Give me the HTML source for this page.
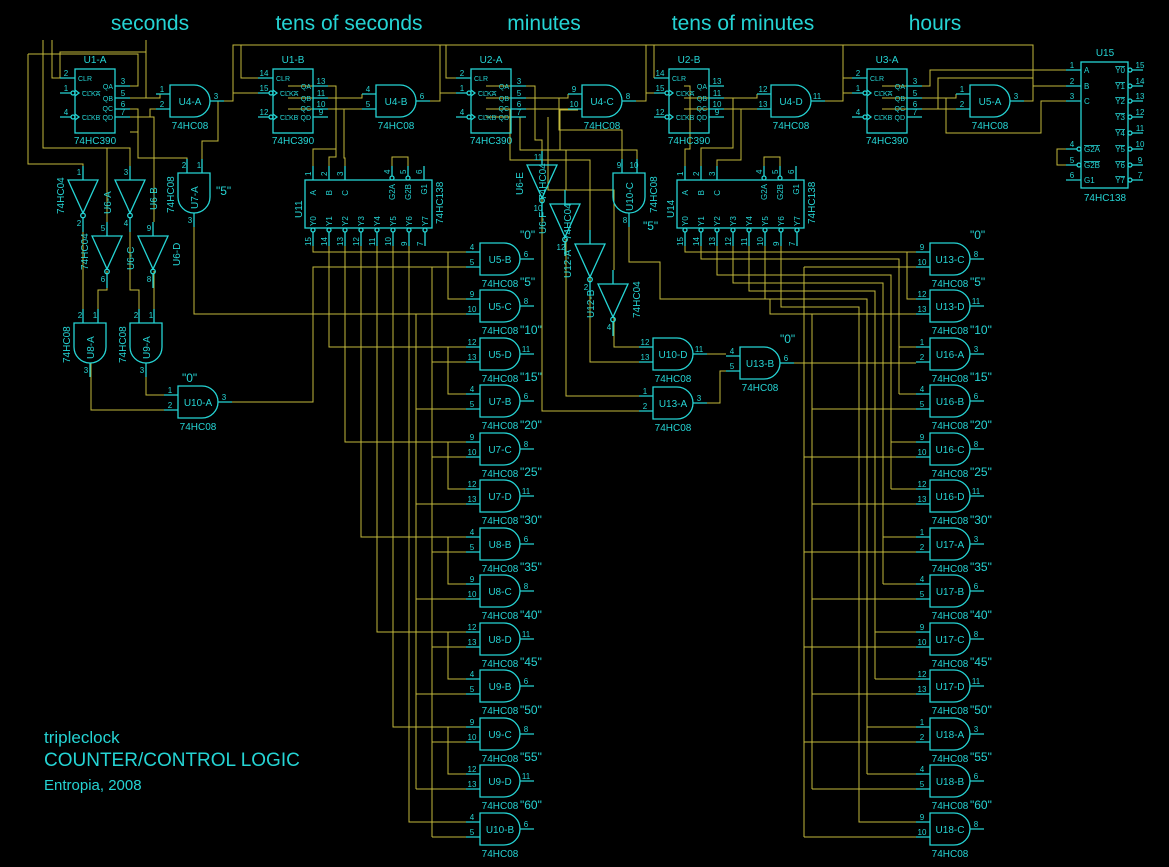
<!DOCTYPE html>
<html><head><meta charset="utf-8"><style>
html,body{margin:0;padding:0;background:#000;}
svg{display:block}
text{font-family:"Liberation Sans",sans-serif;fill:#25d4d4}
.m{font-size:10px;text-anchor:middle}
.p{font-size:8px;text-anchor:middle}
.q{font-size:12px}
.s{font-size:8px}
.k{font-size:7px}
.w{stroke:#c2b83c;fill:none;stroke-width:1}
.c{stroke:#25d4d4;fill:none;stroke-width:1.3}
.t{font-size:21px;text-anchor:middle}
</style></head><body>
<svg width="1169" height="867" viewBox="0 0 1169 867" xmlns="http://www.w3.org/2000/svg">
<defs>
<g id="and"><path class="c" d="M0,0H24A16,16 0 0 1 24,32H0Z"/><path class="c" d="M-14,9H0M-14,24H0M40,16H54"/></g>
<g id="andv"><path class="c" d="M0,0V24A16,16 0 0 0 32,24V0Z"/><path class="c" d="M9,-14V0M24,-14V0M16,40V54"/></g>
<g id="inv"><path class="c" d="M0,0H30L15,33Z"/><circle class="c" cx="15" cy="35.5" r="2.3"/><path class="c" d="M15,-14V0M15,38V52"/></g>
<g id="cnt"><rect class="c" x="0" y="0" width="40" height="64"/><path class="c" d="M-15,9H0M-15,24H-4M-15,48H-4M40,17H55M40,29H55M40,40H55M40,48H55M0,21L4,24L0,27M0,45L4,48L0,51"/><circle class="c" cx="-2" cy="24" r="2"/><circle class="c" cx="-2" cy="48" r="2"/></g>
<g id="dec"><rect class="c" x="0" y="0" width="127" height="48"/><path class="c" d="M8,-14V0M24,-14V0M40,-14V0M87,-14V-4M103,-14V-4M119,-14V0M8,52V66M24,52V66M40,52V66M56,52V66M72,52V66M88,52V66M104,52V66M120,52V66"/><circle class="c" cx="87" cy="-2" r="2"/><circle class="c" cx="103" cy="-2" r="2"/><circle class="c" cx="8" cy="50" r="2"/><circle class="c" cx="24" cy="50" r="2"/><circle class="c" cx="40" cy="50" r="2"/><circle class="c" cx="56" cy="50" r="2"/><circle class="c" cx="72" cy="50" r="2"/><circle class="c" cx="88" cy="50" r="2"/><circle class="c" cx="104" cy="50" r="2"/><circle class="c" cx="120" cy="50" r="2"/></g>
</defs>

<text class="t" x="150" y="30">seconds</text>
<text class="t" x="349" y="30">tens of seconds</text>
<text class="t" x="544" y="30">minutes</text>
<text class="t" x="743" y="30">tens of minutes</text>
<text class="t" x="935" y="30">hours</text>

<g class="w">
<path d="M43,40V148H130V166"/>
<path d="M28,54H138V86H130"/>
<path d="M52,40V78H60"/>
<path d="M146,40V92"/>
<path d="M130,98H146V52H60V78"/>
<path d="M130,109H138V132"/>
<path d="M130,117H154V222"/>
<path d="M130,98H160V94H156"/>
<path d="M138,117H150V109H156"/>
<path d="M224,101H233V93H258"/>
<path d="M233,93V45H440V93"/>
<path d="M241,45V78H258"/>
<path d="M28,54V164H83V166"/>
<path d="M130,132H138V158H187V159"/>
<path d="M218,101V141H202V159"/>
<path d="M288,98H362V94"/>
<path d="M288,109H356V109H362"/>
<path d="M430,101H440V93H456"/>
<path d="M446,45V78H456"/>
<path d="M440,45H646V93"/>
<path d="M636,101H646V93H654"/>
<path d="M646,45H843V78H852"/>
<path d="M654,45V78"/>
<path d="M825,101H843V93H852"/>
<path d="M843,45V93"/>
<path d="M1024,101H1033V45H843"/>
<path d="M486,98H568V94"/>
<path d="M486,109H540V109H568"/>
<path d="M684,98H757V94"/>
<path d="M684,109H757"/>
<path d="M882,98H956V94"/>
<path d="M882,109H946V109H956"/>
<path d="M882,86H930V70H1066"/>
<path d="M882,109H938V78H1033V86H1066"/>
<path d="M946,98V133H1041V101H1066"/>
<path d="M1066,149H1057V165H1066"/>
<path d="M288,86H336V149H313V166"/>
<path d="M336,98V157H329V166"/>
<path d="M344,109V158H345V166"/>
<path d="M392,166V157H408V166"/>
<path d="M684,86H690V149H685V166"/>
<path d="M733,98V148H701V166"/>
<path d="M741,109V160H717V166"/>
<path d="M764,166V157H780V166"/>
<path d="M83,217V309"/>
<path d="M130,217V290H139V309"/>
<path d="M107,222V148"/>
<path d="M107,271V290H98V309"/>
<path d="M154,271V309"/>
<path d="M91,363V410H164"/>
<path d="M146,363V395H164"/>
<path d="M486,86H535V140H542V151"/>
<path d="M486,117H520V150H566V190"/>
<path d="M510,109V160H590V230"/>
<path d="M548,117V190H614V270"/>
<path d="M559,98V130H622V159"/>
<path d="M578,110H560V150H637V159"/>
<path d="M614,318V347H639"/>
<path d="M590,278V362H639"/>
<path d="M566,239V396H639"/>
<path d="M542,199V411H639"/>
<path d="M707,354H726"/>
<path d="M707,403H720V371H726"/>
<path d="M313,232V252H466M448,252V299H466"/>
<path d="M329,232V347H466M448,347V394H466"/>
<path d="M345,232V442H466M448,442V489H466"/>
<path d="M361,232V537H466M448,537V584H466"/>
<path d="M377,232V632H466M448,632V679H466"/>
<path d="M393,232V727H466M448,727V774H466"/>
<path d="M409,232V822H466"/>
<path d="M232,402H313V267H466"/>
<path d="M432,267V837M432,362H466M432,457H466M432,552H466M432,647H466M432,742H466M432,837H466"/>
<path d="M194,213V314H466"/>
<path d="M416,314V789M416,409H466M416,504H466M416,599H466M416,694H466M416,789H466"/>
<path d="M685,232V252H916M907,252V299H916"/>
<path d="M701,232V259H899V394M899,347H916M899,394H916"/>
<path d="M717,232V275H891V489M891,442H916M891,489H916"/>
<path d="M733,232V283H883V584M883,537H916M883,584H916"/>
<path d="M749,232V291H875V679M875,632H916M875,679H916"/>
<path d="M765,232V299H867V774M867,727H916M867,774H916"/>
<path d="M781,232V307H859V822H916"/>
<path d="M794,363H916"/>
<path d="M804,267H916M804,267V837M804,457H916M804,552H916M804,647H916M804,742H916M804,837H916"/>
<path d="M629,227V262H660V299H770V314H916"/>
<path d="M812,314V789M812,409H916M812,504H916M812,599H916M812,694H916M812,789H916"/>
</g>

<g transform="translate(75,69)"><use href="#cnt"/>
<text class="m" x="20" y="-6">U1-A</text><text class="m" x="20" y="75">74HC390</text>
<text class="k" x="3" y="12">CLR</text><text class="k" x="7" y="27" text-decoration="overline">CLKA</text><text class="k" x="7" y="51" text-decoration="overline">CLKB</text>
<text class="k" x="38" y="20" text-anchor="end">QA</text><text class="k" x="38" y="32" text-anchor="end">QB</text><text class="k" x="38" y="42" text-anchor="end">QC</text><text class="k" x="38" y="51" text-anchor="end">QD</text>
<text class="p" x="-9" y="7">2</text><text class="p" x="-9" y="22">1</text><text class="p" x="-9" y="46">4</text>
<text class="p" x="48" y="15">3</text><text class="p" x="48" y="27">5</text><text class="p" x="48" y="38">6</text><text class="p" x="48" y="46">7</text></g>
<g transform="translate(273,69)"><use href="#cnt"/>
<text class="m" x="20" y="-6">U1-B</text><text class="m" x="20" y="75">74HC390</text>
<text class="k" x="3" y="12">CLR</text><text class="k" x="7" y="27" text-decoration="overline">CLKA</text><text class="k" x="7" y="51" text-decoration="overline">CLKB</text>
<text class="k" x="38" y="20" text-anchor="end">QA</text><text class="k" x="38" y="32" text-anchor="end">QB</text><text class="k" x="38" y="42" text-anchor="end">QC</text><text class="k" x="38" y="51" text-anchor="end">QD</text>
<text class="p" x="-9" y="7">14</text><text class="p" x="-9" y="22">15</text><text class="p" x="-9" y="46">12</text>
<text class="p" x="48" y="15">13</text><text class="p" x="48" y="27">11</text><text class="p" x="48" y="38">10</text><text class="p" x="48" y="46">9</text></g>
<g transform="translate(471,69)"><use href="#cnt"/>
<text class="m" x="20" y="-6">U2-A</text><text class="m" x="20" y="75">74HC390</text>
<text class="k" x="3" y="12">CLR</text><text class="k" x="7" y="27" text-decoration="overline">CLKA</text><text class="k" x="7" y="51" text-decoration="overline">CLKB</text>
<text class="k" x="38" y="20" text-anchor="end">QA</text><text class="k" x="38" y="32" text-anchor="end">QB</text><text class="k" x="38" y="42" text-anchor="end">QC</text><text class="k" x="38" y="51" text-anchor="end">QD</text>
<text class="p" x="-9" y="7">2</text><text class="p" x="-9" y="22">1</text><text class="p" x="-9" y="46">4</text>
<text class="p" x="48" y="15">3</text><text class="p" x="48" y="27">5</text><text class="p" x="48" y="38">6</text><text class="p" x="48" y="46">7</text></g>
<g transform="translate(669,69)"><use href="#cnt"/>
<text class="m" x="20" y="-6">U2-B</text><text class="m" x="20" y="75">74HC390</text>
<text class="k" x="3" y="12">CLR</text><text class="k" x="7" y="27" text-decoration="overline">CLKA</text><text class="k" x="7" y="51" text-decoration="overline">CLKB</text>
<text class="k" x="38" y="20" text-anchor="end">QA</text><text class="k" x="38" y="32" text-anchor="end">QB</text><text class="k" x="38" y="42" text-anchor="end">QC</text><text class="k" x="38" y="51" text-anchor="end">QD</text>
<text class="p" x="-9" y="7">14</text><text class="p" x="-9" y="22">15</text><text class="p" x="-9" y="46">12</text>
<text class="p" x="48" y="15">13</text><text class="p" x="48" y="27">11</text><text class="p" x="48" y="38">10</text><text class="p" x="48" y="46">9</text></g>
<g transform="translate(867,69)"><use href="#cnt"/>
<text class="m" x="20" y="-6">U3-A</text><text class="m" x="20" y="75">74HC390</text>
<text class="k" x="3" y="12">CLR</text><text class="k" x="7" y="27" text-decoration="overline">CLKA</text><text class="k" x="7" y="51" text-decoration="overline">CLKB</text>
<text class="k" x="38" y="20" text-anchor="end">QA</text><text class="k" x="38" y="32" text-anchor="end">QB</text><text class="k" x="38" y="42" text-anchor="end">QC</text><text class="k" x="38" y="51" text-anchor="end">QD</text>
<text class="p" x="-9" y="7">2</text><text class="p" x="-9" y="22">1</text><text class="p" x="-9" y="46">4</text>
<text class="p" x="48" y="15">3</text><text class="p" x="48" y="27">5</text><text class="p" x="48" y="38">6</text><text class="p" x="48" y="46">7</text></g>

<g transform="translate(170,85)"><use href="#and"/><text class="m" x="20" y="20">U4-A</text><text class="m" x="20" y="44">74HC08</text><text class="p" x="-8" y="7">1</text><text class="p" x="-8" y="22">2</text><text class="p" x="46" y="14">3</text></g>
<g transform="translate(376,85)"><use href="#and"/><text class="m" x="20" y="20">U4-B</text><text class="m" x="20" y="44">74HC08</text><text class="p" x="-8" y="7">4</text><text class="p" x="-8" y="22">5</text><text class="p" x="46" y="14">6</text></g>
<g transform="translate(582,85)"><use href="#and"/><text class="m" x="20" y="20">U4-C</text><text class="m" x="20" y="44">74HC08</text><text class="p" x="-8" y="7">9</text><text class="p" x="-8" y="22">10</text><text class="p" x="46" y="14">8</text></g>
<g transform="translate(771,85)"><use href="#and"/><text class="m" x="20" y="20">U4-D</text><text class="m" x="20" y="44">74HC08</text><text class="p" x="-8" y="7">12</text><text class="p" x="-8" y="22">13</text><text class="p" x="46" y="14">11</text></g>
<g transform="translate(970,85)"><use href="#and"/><text class="m" x="20" y="20">U5-A</text><text class="m" x="20" y="44">74HC08</text><text class="p" x="-8" y="7">1</text><text class="p" x="-8" y="22">2</text><text class="p" x="46" y="14">3</text></g>

<g transform="translate(305,180)"><use href="#dec"/>
<text transform="translate(11,10) rotate(-90)" text-anchor="end" class="s">A</text><text transform="translate(27,10) rotate(-90)" text-anchor="end" class="s">B</text><text transform="translate(43,10) rotate(-90)" text-anchor="end" class="s">C</text><text transform="translate(90,4) rotate(-90)" text-anchor="end" class="s">G2A</text><text transform="translate(106,4) rotate(-90)" text-anchor="end" class="s">G2B</text><text transform="translate(122,4) rotate(-90)" text-anchor="end" class="s">G1</text>
<text transform="translate(11,46) rotate(-90)" class="s">Y0</text><text transform="translate(27,46) rotate(-90)" class="s">Y1</text><text transform="translate(43,46) rotate(-90)" class="s">Y2</text><text transform="translate(59,46) rotate(-90)" class="s">Y3</text><text transform="translate(75,46) rotate(-90)" class="s">Y4</text><text transform="translate(91,46) rotate(-90)" class="s">Y5</text><text transform="translate(107,46) rotate(-90)" class="s">Y6</text><text transform="translate(123,46) rotate(-90)" class="s">Y7</text>
<text transform="translate(6,-4) rotate(-90)" class="s">1</text><text transform="translate(22,-4) rotate(-90)" class="s">2</text><text transform="translate(38,-4) rotate(-90)" class="s">3</text><text transform="translate(85,-6) rotate(-90)" class="s">4</text><text transform="translate(101,-6) rotate(-90)" class="s">5</text><text transform="translate(117,-6) rotate(-90)" class="s">6</text>
<text transform="translate(6,66) rotate(-90)" class="s">15</text><text transform="translate(22,66) rotate(-90)" class="s">14</text><text transform="translate(38,66) rotate(-90)" class="s">13</text><text transform="translate(54,66) rotate(-90)" class="s">12</text><text transform="translate(70,66) rotate(-90)" class="s">11</text><text transform="translate(86,66) rotate(-90)" class="s">10</text><text transform="translate(102,66) rotate(-90)" class="s">9</text><text transform="translate(118,66) rotate(-90)" class="s">7</text>
<text transform="translate(-3,38) rotate(-90)" style="font-size:10px">U11</text><text transform="translate(138,44) rotate(-90)" style="font-size:10px">74HC138</text></g>
<g transform="translate(677,180)"><use href="#dec"/>
<text transform="translate(11,10) rotate(-90)" text-anchor="end" class="s">A</text><text transform="translate(27,10) rotate(-90)" text-anchor="end" class="s">B</text><text transform="translate(43,10) rotate(-90)" text-anchor="end" class="s">C</text><text transform="translate(90,4) rotate(-90)" text-anchor="end" class="s">G2A</text><text transform="translate(106,4) rotate(-90)" text-anchor="end" class="s">G2B</text><text transform="translate(122,4) rotate(-90)" text-anchor="end" class="s">G1</text>
<text transform="translate(11,46) rotate(-90)" class="s">Y0</text><text transform="translate(27,46) rotate(-90)" class="s">Y1</text><text transform="translate(43,46) rotate(-90)" class="s">Y2</text><text transform="translate(59,46) rotate(-90)" class="s">Y3</text><text transform="translate(75,46) rotate(-90)" class="s">Y4</text><text transform="translate(91,46) rotate(-90)" class="s">Y5</text><text transform="translate(107,46) rotate(-90)" class="s">Y6</text><text transform="translate(123,46) rotate(-90)" class="s">Y7</text>
<text transform="translate(6,-4) rotate(-90)" class="s">1</text><text transform="translate(22,-4) rotate(-90)" class="s">2</text><text transform="translate(38,-4) rotate(-90)" class="s">3</text><text transform="translate(85,-6) rotate(-90)" class="s">4</text><text transform="translate(101,-6) rotate(-90)" class="s">5</text><text transform="translate(117,-6) rotate(-90)" class="s">6</text>
<text transform="translate(6,66) rotate(-90)" class="s">15</text><text transform="translate(22,66) rotate(-90)" class="s">14</text><text transform="translate(38,66) rotate(-90)" class="s">13</text><text transform="translate(54,66) rotate(-90)" class="s">12</text><text transform="translate(70,66) rotate(-90)" class="s">11</text><text transform="translate(86,66) rotate(-90)" class="s">10</text><text transform="translate(102,66) rotate(-90)" class="s">9</text><text transform="translate(118,66) rotate(-90)" class="s">7</text>
<text transform="translate(-3,38) rotate(-90)" style="font-size:10px">U14</text><text transform="translate(138,44) rotate(-90)" style="font-size:10px">74HC138</text></g>

<g transform="translate(1081,62)">
<rect class="c" x="0" y="0" width="47" height="126"/>
<path class="c" d="M-15,8H0M-15,24H0M-15,39H0M-15,87H-4M-15,103H-4M-15,118H0M51,8H62M51,24H62M51,39H62M51,55H62M51,71H62M51,87H62M51,103H62M51,118H62"/>
<circle class="c" cx="-2" cy="87" r="2"/><circle class="c" cx="-2" cy="103" r="2"/>
<circle class="c" cx="49" cy="8" r="2"/><circle class="c" cx="49" cy="24" r="2"/><circle class="c" cx="49" cy="39" r="2"/><circle class="c" cx="49" cy="55" r="2"/><circle class="c" cx="49" cy="71" r="2"/><circle class="c" cx="49" cy="87" r="2"/><circle class="c" cx="49" cy="103" r="2"/><circle class="c" cx="49" cy="118" r="2"/>
<text class="m" x="24" y="-6">U15</text><text class="m" x="24" y="139">74HC138</text>
<text class="s" x="3" y="11">A</text><text class="s" x="3" y="27">B</text><text class="s" x="3" y="42">C</text><text class="s" x="3" y="90" text-decoration="overline">G2A</text><text class="s" x="3" y="106" text-decoration="overline">G2B</text><text class="s" x="3" y="121">G1</text>
<text class="s" x="44" y="11" text-anchor="end" text-decoration="overline">Y0</text><text class="s" x="44" y="27" text-anchor="end" text-decoration="overline">Y1</text><text class="s" x="44" y="42" text-anchor="end" text-decoration="overline">Y2</text><text class="s" x="44" y="58" text-anchor="end" text-decoration="overline">Y3</text><text class="s" x="44" y="74" text-anchor="end" text-decoration="overline">Y4</text><text class="s" x="44" y="90" text-anchor="end" text-decoration="overline">Y5</text><text class="s" x="44" y="106" text-anchor="end" text-decoration="overline">Y6</text><text class="s" x="44" y="121" text-anchor="end" text-decoration="overline">Y7</text>
<text class="p" x="-9" y="6">1</text><text class="p" x="-9" y="22">2</text><text class="p" x="-9" y="37">3</text><text class="p" x="-9" y="85">4</text><text class="p" x="-9" y="101">5</text><text class="p" x="-9" y="116">6</text>
<text class="p" x="59" y="6">15</text><text class="p" x="59" y="22">14</text><text class="p" x="59" y="37">13</text><text class="p" x="59" y="53">12</text><text class="p" x="59" y="69">11</text><text class="p" x="59" y="85">10</text><text class="p" x="59" y="101">9</text><text class="p" x="59" y="116">7</text>
</g>

<g transform="translate(68,180)"><use href="#inv"/><text transform="translate(-4,34) rotate(-90)" style="font-size:10px">74HC04</text><text class="p" x="11" y="-5">1</text><text class="p" x="11" y="46">2</text></g>
<g transform="translate(115,180)"><use href="#inv"/><text transform="translate(-4,34) rotate(-90)" style="font-size:10px">U6-A</text><text transform="translate(42,30) rotate(-90)" style="font-size:10px">U6-B</text><text class="p" x="11" y="-5">3</text><text class="p" x="11" y="46">4</text></g>
<g transform="translate(92,236)"><use href="#inv"/><text transform="translate(-4,34) rotate(-90)" style="font-size:10px">74HC04</text><text class="p" x="11" y="-5">5</text><text class="p" x="11" y="46">6</text></g>
<g transform="translate(138,236)"><use href="#inv"/><text transform="translate(-4,34) rotate(-90)" style="font-size:10px">U6-C</text><text transform="translate(42,30) rotate(-90)" style="font-size:10px">U6-D</text><text class="p" x="11" y="-5">9</text><text class="p" x="11" y="46">8</text></g>

<g transform="translate(527,165)"><use href="#inv"/><text transform="translate(-4,30) rotate(-90)" style="font-size:10px">U6-E</text><text class="p" x="11" y="-5">11</text><text class="p" x="11" y="46">10</text></g>
<g transform="translate(550,204)"><use href="#inv"/><text transform="translate(-4,30) rotate(-90)" style="font-size:10px">U6-F</text><text transform="translate(-4,-4) rotate(-90)" style="font-size:10px">74HC04</text><text class="p" x="11" y="46">12</text></g>
<g transform="translate(575,244)"><use href="#inv"/><text transform="translate(-4,34) rotate(-90)" style="font-size:10px">U12-A</text><text transform="translate(-4,-4) rotate(-90)" style="font-size:10px">74HC04</text><text class="p" x="11" y="46">2</text></g>
<g transform="translate(598,284)"><use href="#inv"/><text transform="translate(-4,34) rotate(-90)" style="font-size:10px">U12-B</text><text transform="translate(42,34) rotate(-90)" style="font-size:10px">74HC04</text><text class="p" x="11" y="46">4</text></g>

<g transform="translate(178,173)"><use href="#andv"/><text transform="translate(20,36) rotate(-90)" style="font-size:10px">U7-A</text><text transform="translate(-4,40) rotate(-90)" style="font-size:10px">74HC08</text><text class="q" x="38" y="22">"5"</text><text class="p" x="6" y="-5">2</text><text class="p" x="21" y="-5">1</text><text class="p" x="12" y="50">3</text></g>
<g transform="translate(74,323)"><use href="#andv"/><text transform="translate(20,36) rotate(-90)" style="font-size:10px">U8-A</text><text transform="translate(-4,40) rotate(-90)" style="font-size:10px">74HC08</text><text class="p" x="6" y="-5">2</text><text class="p" x="21" y="-5">1</text><text class="p" x="12" y="50">3</text></g>
<g transform="translate(130,323)"><use href="#andv"/><text transform="translate(20,36) rotate(-90)" style="font-size:10px">U9-A</text><text transform="translate(-4,40) rotate(-90)" style="font-size:10px">74HC08</text><text class="p" x="6" y="-5">2</text><text class="p" x="21" y="-5">1</text><text class="p" x="12" y="50">3</text></g>
<g transform="translate(613,173)"><use href="#andv"/><text transform="translate(20,38) rotate(-90)" style="font-size:10px">U10-C</text><text transform="translate(44,40) rotate(-90)" style="font-size:10px">74HC08</text><text class="q" x="30" y="57">"5"</text><text class="p" x="6" y="-5">9</text><text class="p" x="21" y="-5">10</text><text class="p" x="12" y="50">8</text></g>

<g transform="translate(178,386)"><use href="#and"/><text class="m" x="20" y="20">U10-A</text><text class="m" x="20" y="44">74HC08</text><text class="p" x="-8" y="7">1</text><text class="p" x="-8" y="22">2</text><text class="p" x="46" y="14">3</text><text class="q" x="4" y="-4">"0"</text></g>
<g transform="translate(653,338)"><use href="#and"/><text class="m" x="20" y="20">U10-D</text><text class="m" x="20" y="44">74HC08</text><text class="p" x="-8" y="7">12</text><text class="p" x="-8" y="22">13</text><text class="p" x="46" y="14">11</text></g>
<g transform="translate(653,387)"><use href="#and"/><text class="m" x="20" y="20">U13-A</text><text class="m" x="20" y="44">74HC08</text><text class="p" x="-8" y="7">1</text><text class="p" x="-8" y="22">2</text><text class="p" x="46" y="14">3</text></g>
<g transform="translate(740,347)"><use href="#and"/><text class="m" x="20" y="20">U13-B</text><text class="m" x="20" y="44">74HC08</text><text class="p" x="-8" y="7">4</text><text class="p" x="-8" y="22">5</text><text class="p" x="46" y="14">6</text><text class="q" x="40" y="-4">"0"</text></g>

<g transform="translate(480,243)"><use href="#and"/><text class="m" x="20" y="20">U5-B</text><text class="m" x="20" y="44">74HC08</text><text class="p" x="-8" y="7">4</text><text class="p" x="-8" y="22">5</text><text class="p" x="46" y="14">6</text><text class="q" x="40" y="-4">"0"</text></g>
<g transform="translate(480,290)"><use href="#and"/><text class="m" x="20" y="20">U5-C</text><text class="m" x="20" y="44">74HC08</text><text class="p" x="-8" y="7">9</text><text class="p" x="-8" y="22">10</text><text class="p" x="46" y="14">8</text><text class="q" x="40" y="-4">"5"</text></g>
<g transform="translate(480,338)"><use href="#and"/><text class="m" x="20" y="20">U5-D</text><text class="m" x="20" y="44">74HC08</text><text class="p" x="-8" y="7">12</text><text class="p" x="-8" y="22">13</text><text class="p" x="46" y="14">11</text><text class="q" x="40" y="-4">"10"</text></g>
<g transform="translate(480,385)"><use href="#and"/><text class="m" x="20" y="20">U7-B</text><text class="m" x="20" y="44">74HC08</text><text class="p" x="-8" y="7">4</text><text class="p" x="-8" y="22">5</text><text class="p" x="46" y="14">6</text><text class="q" x="40" y="-4">"15"</text></g>
<g transform="translate(480,433)"><use href="#and"/><text class="m" x="20" y="20">U7-C</text><text class="m" x="20" y="44">74HC08</text><text class="p" x="-8" y="7">9</text><text class="p" x="-8" y="22">10</text><text class="p" x="46" y="14">8</text><text class="q" x="40" y="-4">"20"</text></g>
<g transform="translate(480,480)"><use href="#and"/><text class="m" x="20" y="20">U7-D</text><text class="m" x="20" y="44">74HC08</text><text class="p" x="-8" y="7">12</text><text class="p" x="-8" y="22">13</text><text class="p" x="46" y="14">11</text><text class="q" x="40" y="-4">"25"</text></g>
<g transform="translate(480,528)"><use href="#and"/><text class="m" x="20" y="20">U8-B</text><text class="m" x="20" y="44">74HC08</text><text class="p" x="-8" y="7">4</text><text class="p" x="-8" y="22">5</text><text class="p" x="46" y="14">6</text><text class="q" x="40" y="-4">"30"</text></g>
<g transform="translate(480,575)"><use href="#and"/><text class="m" x="20" y="20">U8-C</text><text class="m" x="20" y="44">74HC08</text><text class="p" x="-8" y="7">9</text><text class="p" x="-8" y="22">10</text><text class="p" x="46" y="14">8</text><text class="q" x="40" y="-4">"35"</text></g>
<g transform="translate(480,623)"><use href="#and"/><text class="m" x="20" y="20">U8-D</text><text class="m" x="20" y="44">74HC08</text><text class="p" x="-8" y="7">12</text><text class="p" x="-8" y="22">13</text><text class="p" x="46" y="14">11</text><text class="q" x="40" y="-4">"40"</text></g>
<g transform="translate(480,670)"><use href="#and"/><text class="m" x="20" y="20">U9-B</text><text class="m" x="20" y="44">74HC08</text><text class="p" x="-8" y="7">4</text><text class="p" x="-8" y="22">5</text><text class="p" x="46" y="14">6</text><text class="q" x="40" y="-4">"45"</text></g>
<g transform="translate(480,718)"><use href="#and"/><text class="m" x="20" y="20">U9-C</text><text class="m" x="20" y="44">74HC08</text><text class="p" x="-8" y="7">9</text><text class="p" x="-8" y="22">10</text><text class="p" x="46" y="14">8</text><text class="q" x="40" y="-4">"50"</text></g>
<g transform="translate(480,765)"><use href="#and"/><text class="m" x="20" y="20">U9-D</text><text class="m" x="20" y="44">74HC08</text><text class="p" x="-8" y="7">12</text><text class="p" x="-8" y="22">13</text><text class="p" x="46" y="14">11</text><text class="q" x="40" y="-4">"55"</text></g>
<g transform="translate(480,813)"><use href="#and"/><text class="m" x="20" y="20">U10-B</text><text class="m" x="20" y="44">74HC08</text><text class="p" x="-8" y="7">4</text><text class="p" x="-8" y="22">5</text><text class="p" x="46" y="14">6</text><text class="q" x="40" y="-4">"60"</text></g>

<g transform="translate(930,243)"><use href="#and"/><text class="m" x="20" y="20">U13-C</text><text class="m" x="20" y="44">74HC08</text><text class="p" x="-8" y="7">9</text><text class="p" x="-8" y="22">10</text><text class="p" x="46" y="14">8</text><text class="q" x="40" y="-4">"0"</text></g>
<g transform="translate(930,290)"><use href="#and"/><text class="m" x="20" y="20">U13-D</text><text class="m" x="20" y="44">74HC08</text><text class="p" x="-8" y="7">12</text><text class="p" x="-8" y="22">13</text><text class="p" x="46" y="14">11</text><text class="q" x="40" y="-4">"5"</text></g>
<g transform="translate(930,338)"><use href="#and"/><text class="m" x="20" y="20">U16-A</text><text class="m" x="20" y="44">74HC08</text><text class="p" x="-8" y="7">1</text><text class="p" x="-8" y="22">2</text><text class="p" x="46" y="14">3</text><text class="q" x="40" y="-4">"10"</text></g>
<g transform="translate(930,385)"><use href="#and"/><text class="m" x="20" y="20">U16-B</text><text class="m" x="20" y="44">74HC08</text><text class="p" x="-8" y="7">4</text><text class="p" x="-8" y="22">5</text><text class="p" x="46" y="14">6</text><text class="q" x="40" y="-4">"15"</text></g>
<g transform="translate(930,433)"><use href="#and"/><text class="m" x="20" y="20">U16-C</text><text class="m" x="20" y="44">74HC08</text><text class="p" x="-8" y="7">9</text><text class="p" x="-8" y="22">10</text><text class="p" x="46" y="14">8</text><text class="q" x="40" y="-4">"20"</text></g>
<g transform="translate(930,480)"><use href="#and"/><text class="m" x="20" y="20">U16-D</text><text class="m" x="20" y="44">74HC08</text><text class="p" x="-8" y="7">12</text><text class="p" x="-8" y="22">13</text><text class="p" x="46" y="14">11</text><text class="q" x="40" y="-4">"25"</text></g>
<g transform="translate(930,528)"><use href="#and"/><text class="m" x="20" y="20">U17-A</text><text class="m" x="20" y="44">74HC08</text><text class="p" x="-8" y="7">1</text><text class="p" x="-8" y="22">2</text><text class="p" x="46" y="14">3</text><text class="q" x="40" y="-4">"30"</text></g>
<g transform="translate(930,575)"><use href="#and"/><text class="m" x="20" y="20">U17-B</text><text class="m" x="20" y="44">74HC08</text><text class="p" x="-8" y="7">4</text><text class="p" x="-8" y="22">5</text><text class="p" x="46" y="14">6</text><text class="q" x="40" y="-4">"35"</text></g>
<g transform="translate(930,623)"><use href="#and"/><text class="m" x="20" y="20">U17-C</text><text class="m" x="20" y="44">74HC08</text><text class="p" x="-8" y="7">9</text><text class="p" x="-8" y="22">10</text><text class="p" x="46" y="14">8</text><text class="q" x="40" y="-4">"40"</text></g>
<g transform="translate(930,670)"><use href="#and"/><text class="m" x="20" y="20">U17-D</text><text class="m" x="20" y="44">74HC08</text><text class="p" x="-8" y="7">12</text><text class="p" x="-8" y="22">13</text><text class="p" x="46" y="14">11</text><text class="q" x="40" y="-4">"45"</text></g>
<g transform="translate(930,718)"><use href="#and"/><text class="m" x="20" y="20">U18-A</text><text class="m" x="20" y="44">74HC08</text><text class="p" x="-8" y="7">1</text><text class="p" x="-8" y="22">2</text><text class="p" x="46" y="14">3</text><text class="q" x="40" y="-4">"50"</text></g>
<g transform="translate(930,765)"><use href="#and"/><text class="m" x="20" y="20">U18-B</text><text class="m" x="20" y="44">74HC08</text><text class="p" x="-8" y="7">4</text><text class="p" x="-8" y="22">5</text><text class="p" x="46" y="14">6</text><text class="q" x="40" y="-4">"55"</text></g>
<g transform="translate(930,813)"><use href="#and"/><text class="m" x="20" y="20">U18-C</text><text class="m" x="20" y="44">74HC08</text><text class="p" x="-8" y="7">9</text><text class="p" x="-8" y="22">10</text><text class="p" x="46" y="14">8</text><text class="q" x="40" y="-4">"60"</text></g>

<text x="44" y="743" style="font-size:17px">tripleclock</text>
<text x="44" y="766" style="font-size:19px">COUNTER/CONTROL LOGIC</text>
<text x="44" y="790" style="font-size:15px">Entropia, 2008</text>
</svg>
</body></html>
